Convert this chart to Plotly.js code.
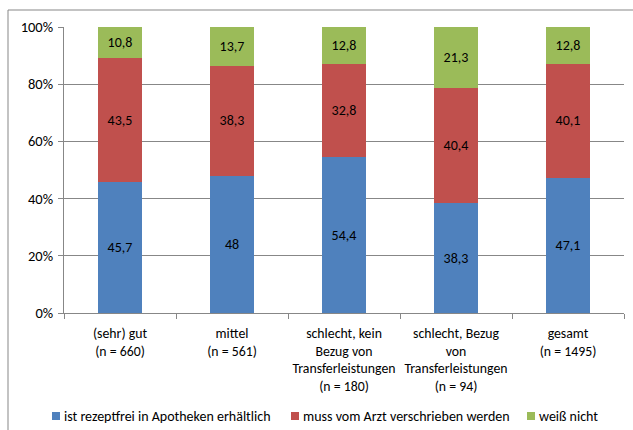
<!DOCTYPE html>
<html>
<head>
<meta charset="utf-8">
<script src="https://cdn.plot.ly/plotly-3.0.1.min.js"></script>
<style>
  html, body { margin: 0; padding: 0; background: #fff; }
  #chart { width: 633px; height: 430px; }
</style>
</head>
<body>
<div id="chart"></div>
<script>
// Kategorien (Gesundheitszustand / Bezug von Transferleistungen)
const categories = [
  "(sehr) gut<br>(n = 660)",
  "mittel<br>(n = 561)",
  "schlecht, kein<br>Bezug von<br>Transferleistungen<br>(n = 180)",
  "schlecht, Bezug<br>von<br>Transferleistungen<br>(n = 94)",
  "gesamt<br>(n = 1495)"
];

// Anteile in Prozent
const rezeptfrei = [45.7, 48, 54.4, 38.3, 47.1];
const verschrieben = [43.5, 38.3, 32.8, 40.4, 40.1];
const weissNicht = [10.8, 13.7, 12.8, 21.3, 12.8];

const seriesNames = [
  "ist rezeptfrei in Apotheken erhältlich",
  "muss vom Arzt verschrieben werden",
  "weiß nicht"
];
const seriesColors = ["#4F81BD", "#C0504D", "#9BBB59"];

const FONT = "Carlito, Calibri, Lato, sans-serif";
const fmt = v => String(v).replace(".", ",");

// Plot area in pixels (used to place the legend row below it)
const W = 633, H = 430;
const M = { l: 64, r: 9, t: 27, b: 117 };
const plotW = W - M.l - M.r, plotH = H - M.t - M.b;
const px2x = px => (px - M.l) / plotW;
const px2y = py => (H - M.b - py) / plotH;

function barTrace(values, i) {
  return {
    type: "bar",
    x: categories,
    y: values,
    name: seriesNames[i],
    marker: { color: seriesColors[i], line: { width: 0 } },
    text: values.map(fmt),
    texttemplate: "%{text}",
    textposition: "inside",
    insidetextanchor: "middle",
    constraintext: "none",
    textfont: { family: FONT, size: 14, color: "#000" },
    hoverinfo: "skip"
  };
}

const data = [
  barTrace(rezeptfrei, 0),
  barTrace(verschrieben, 1),
  barTrace(weissNicht, 2)
];

const gridColor = "#878787";

// Legend row: small square key followed by the series name
const legendKeyX = [52, 291, 527];
const legendY = 416;
const legendShapes = seriesNames.map((n, i) => ({
  type: "rect",
  xref: "paper", yref: "paper",
  x0: px2x(legendKeyX[i]), x1: px2x(legendKeyX[i] + 8),
  y0: px2y(legendY + 4), y1: px2y(legendY - 4),
  line: { width: 0 },
  fillcolor: seriesColors[i]
}));
const legendLabels = seriesNames.map((n, i) => ({
  xref: "paper", yref: "paper",
  x: px2x(legendKeyX[i] + 10),
  y: px2y(legendY),
  xanchor: "left",
  yanchor: "middle",
  text: n,
  showarrow: false,
  font: { family: FONT, size: 14, color: "#000" }
}));

const layout = {
  width: W,
  height: H,
  margin: { l: M.l, r: M.r, t: M.t, b: M.b, autoexpand: false },
  paper_bgcolor: "#fff",
  plot_bgcolor: "#fff",
  barmode: "stack",
  bargap: 0.6,
  showlegend: false,
  font: { family: FONT, size: 14, color: "#000" },
  xaxis: {
    type: "category",
    showgrid: false,
    showline: true,
    linecolor: gridColor,
    linewidth: 1,
    ticks: "outside",
    tickson: "boundaries",
    ticklen: 5,
    tickcolor: gridColor,
    tickfont: { family: FONT, size: 13.8, color: "#000" },
    ticklabelstandoff: 7,
    tickangle: 0,
    automargin: false
  },
  yaxis: {
    range: [0, 100],
    dtick: 20,
    ticksuffix: "%",
    showgrid: true,
    gridcolor: gridColor,
    gridwidth: 1,
    showline: true,
    linecolor: gridColor,
    ticks: "outside",
    ticklen: 5,
    tickcolor: gridColor,
    tickfont: { family: FONT, size: 14.5, color: "#000" },
    ticklabelstandoff: 2,
    zeroline: false,
    automargin: false
  },
  annotations: legendLabels,
  shapes: [
    {
      type: "rect",
      xref: "paper", yref: "paper",
      x0: px2x(8), x1: px2x(W + 20),
      y0: px2y(H + 20), y1: px2y(10),
      line: { color: gridColor, width: 1 },
      fillcolor: "rgba(0,0,0,0)",
      layer: "below"
    }
  ].concat(legendShapes)
};

Plotly.newPlot("chart", data, layout, { displayModeBar: false, staticPlot: true });
</script>
</body>
</html>
